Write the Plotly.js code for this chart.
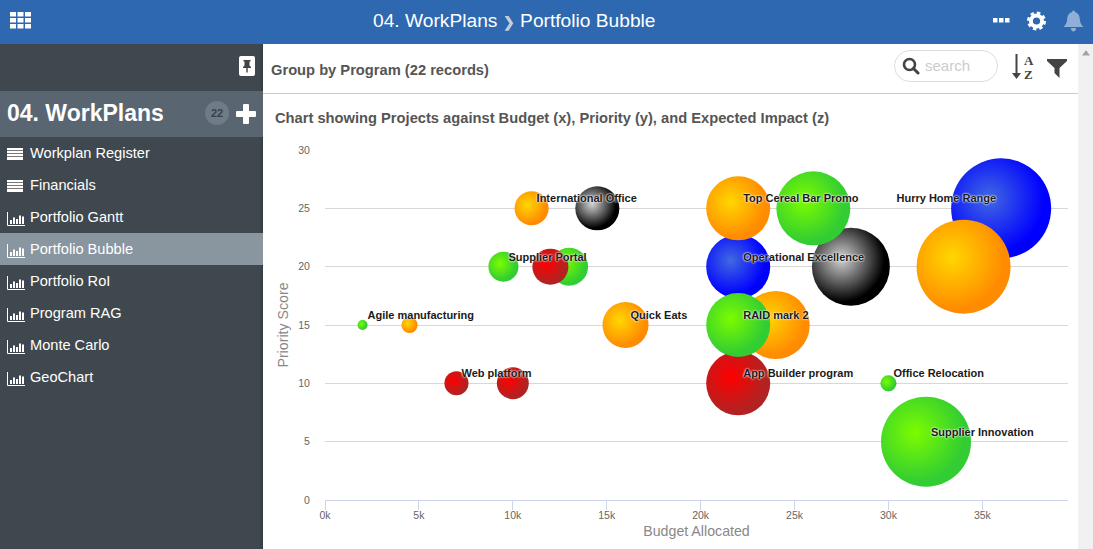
<!DOCTYPE html>
<html><head><meta charset="utf-8">
<script src="https://cdn.plot.ly/plotly-3.0.1.min.js"></script>
<style>
html,body{margin:0;padding:0;width:1093px;height:549px;overflow:hidden;background:#fff;font-family:"Liberation Sans",Arial,sans-serif}
.a{position:absolute}
#hdr{left:0;top:0;width:1093px;height:44px;background:#2d68b0}
#ttl{left:373px;top:0;line-height:41px;font-size:19.2px;color:#fff;white-space:pre}
#side{left:0;top:44px;width:263px;height:505px;background:#40484f;box-shadow:inset -4px 0 3px -3px rgba(0,0,0,.25)}
#band{left:0;top:91px;width:263px;height:46px;background:#596570;color:#fff;font-weight:bold;font-size:23px;line-height:45px;text-indent:7px}
.row{left:0;width:263px;height:32px;line-height:32px;color:#fff;font-size:14.6px;text-indent:30px}
.row.sel{background:#8a969f}
.row svg{position:absolute;left:7px;top:8px}
#badge{left:205px;top:101px;width:24px;height:24px;border-radius:12px;background:#6f7b85;color:#39424a;font-size:11px;font-weight:bold;line-height:24px;text-align:center}
#grp{left:271px;top:61px;font-size:14.7px;font-weight:bold;color:#555;line-height:18px}
#rule{left:263px;top:93px;width:815px;height:1px;background:#ccc}
#scroll{left:1078px;top:44px;width:15px;height:505px;background:#f1f1f1}
#search{left:894px;top:50px;width:102px;height:30px;border:1px solid #ddd;border-radius:16px;color:#ccc;font-size:15px;line-height:30px;text-indent:30px}
#chart{left:263px;top:100px;width:815px;height:449px}
</style></head><body>
<div id="hdr" class="a"></div>
<div id="ttl" class="a">04. WorkPlans <span style="color:#c4cfdc;font-weight:bold;font-size:14px">&#10095;</span> Portfolio Bubble</div>
<svg class="a" style="left:10px;top:12px" width="21" height="17" fill="#fff"><rect x="0" y="0" width="6" height="4.5"/><rect x="7.5" y="0" width="6" height="4.5"/><rect x="15" y="0" width="6" height="4.5"/><rect x="0" y="6" width="6" height="4.5"/><rect x="7.5" y="6" width="6" height="4.5"/><rect x="15" y="6" width="6" height="4.5"/><rect x="0" y="12" width="6" height="4.5"/><rect x="7.5" y="12" width="6" height="4.5"/><rect x="15" y="12" width="6" height="4.5"/></svg>
<svg class="a" style="left:993px;top:17px" width="17" height="6" fill="#fff"><rect x="0" y="1" width="4.5" height="4.5"/><rect x="6" y="1" width="4.5" height="4.5"/><rect x="12" y="1" width="4.5" height="4.5"/></svg>
<svg class="a" style="left:1027px;top:11px" width="19" height="20"><circle cx="9.5" cy="10" r="5.6" fill="none" stroke="#fff" stroke-width="4"/><circle cx="9.5" cy="10" r="8" fill="none" stroke="#fff" stroke-width="3" stroke-dasharray="3.4 2.9"/></svg>
<svg class="a" style="left:1063px;top:10px" width="21" height="22"><path d="M10.500 0.500C11.500 0.500 12 1.200 12 2.300C15.500 3 16.500 6 16.800 9C17 13 18.500 15 20.500 17H0.500C2.500 15 4 13 4.200 9C4.500 6 5.500 3 9 2.300C9 1.200 9.500 0.500 10.500 0.500ZM8 18H13C13 20 12 21.500 10.500 21.500C9 21.500 8 20 8 18Z" fill="#8fafd8"/></svg>
<div id="side" class="a"></div>
<svg class="a" style="left:239px;top:56px" width="16" height="20"><rect width="16" height="20" rx="2" fill="#fff"/><path d="M4.500 4H11.500V5.500H10.500V9.500L12 11V12H8.700V16L8 17L7.300 16V12H4V11L5.500 9.500V5.500H4.500Z" fill="#444"/></svg>
<div id="band" class="a">04. WorkPlans</div>
<div id="badge" class="a">22</div>
<svg class="a" style="left:236px;top:104px" width="20" height="20" fill="#fff"><rect x="7" y="0" width="6" height="20" rx="1"/><rect x="0" y="7" width="20" height="6" rx="1"/></svg>
<div id="rows"></div>
<div id="grp" class="a">Group by Program (22 records)</div>
<div id="rule" class="a"></div>
<div id="scroll" class="a"></div>
<svg class="a" style="left:1082px;top:50px" width="9" height="6"><path d="M0 5.500L3.700 0.500H4.300L8 5.500Z" fill="#a3a3a3"/></svg>
<div id="search" class="a">search</div>
<svg class="a" style="left:902px;top:57px" width="18" height="19"><circle cx="7.500" cy="7.500" r="5.500" fill="none" stroke="#444" stroke-width="2.600"/><path d="M11.500 11.500L16 16" stroke="#444" stroke-width="3" stroke-linecap="round"/></svg>
<svg class="a" style="left:1011px;top:53px" width="26" height="28"><path d="M5.500 1V23" stroke="#444" stroke-width="2"/><path d="M1 20H10L5.500 26Z" fill="#444"/><text x="13" y="12" font-size="13" font-weight="bold" fill="#444" font-family="Liberation Serif">A</text><text x="13" y="26" font-size="13" font-weight="bold" fill="#444" font-family="Liberation Serif">Z</text></svg>
<svg class="a" style="left:1047px;top:58px" width="20" height="20"><path d="M0 1H20V3L12.500 10V20L7.500 15V10L0 3Z" fill="#444"/></svg>
<div id="chart" class="a"></div>
<script>
// --- data ---
var menuItems = ["Workplan Register","Financials","Portfolio Gantt","Portfolio Bubble","Portfolio RoI","Program RAG","Monte Carlo","GeoChart"];
var menuKinds = ["list","list","chart","chart","chart","chart","chart","chart"];

var budget     = [28000,14500,36000,22000,34000,22000,24000,22000,22000,13000,12000,26000,9500,11000,7000,10000,2000,4500,16000,30000,32000];
var priority   = [20,25,25,20,20,25,15,10,15,20,20,25,20,25,10,10,15,15,15,10,5];
var impact     = [60.8,19.4,100,41,88.4,41,46.2,41,41,14.4,13,54.8,9,11.6,5.8,10.2,1,2.6,21.2,2.6,81];
var ragStatus  = ["black","black","blue","blue","amber","amber","amber","red","green","green","red","green","green","amber","red","red","green","amber","amber","green","green"];
var pointNames = ["","","Hurry Home Range","Operational Excellence","","Top Cereal Bar Promo","","App Builder program","RAID mark 2","","","","Supplier Portal","International Office","Web platform","","Agile manufacturing","","Quick Eats","Office Relocation","Supplier Innovation"];

var xTickVals  = [0,5000,10000,15000,20000,25000,30000,35000];
var xTickText  = ["0k","5k","10k","15k","20k","25k","30k","35k"];
var yTickVals  = [0,5,10,15,20,25,30];
var edgeColors = {green:"#32CD32",red:"#B22222",amber:"#FF8C00",blue:"#0000FF",black:"#000000"};
var coreColors = {green:"#7CFC00",red:"#FF0000",amber:"#FFD700",blue:"#4169E1",black:"#D3D3D3"};

// --- sidebar rows ---
var listIcon='<svg width="17" height="17" fill="#fff"><rect y="3" width="16" height="12" fill="#fff"/><path d="M0 5.500H16M0 8.500H16M0 11.500H16" stroke="#777" stroke-width="1"/></svg>';
var chartIcon='<svg width="19" height="18"><path d="M.5 3V16.500H18" stroke="#fff" fill="none"/><path d="M4 15V11M7 15V8.500M10 15V10M13 15V6.500M16 15V7.500" stroke="#fff" stroke-width="2"/></svg>';
var rowsEl=document.getElementById('rows');
menuItems.forEach(function(m,i){
  var d=document.createElement('div');
  d.className='a row'+(m==='Portfolio Bubble'?' sel':'');
  d.style.top=(137+i*32)+'px';
  d.innerHTML=(menuKinds[i]==='list'?listIcon:chartIcon)+m;
  rowsEl.appendChild(d);
});

// --- chart ---
var maxPx=100;
var sizeref=2*Math.max.apply(null,impact)/(maxPx*maxPx);
var positions=pointNames.map(function(n){return n==='Hurry Home Range'?'top left':'top right';});

var bubbles={type:'scatter',mode:'markers',x:budget,y:priority,hoverinfo:'skip',cliponaxis:false,
  marker:{size:impact,sizemode:'area',sizeref:sizeref,sizemin:1,opacity:1,
    color:ragStatus.map(function(s){return edgeColors[s];}),
    gradient:{type:'radial',color:ragStatus.map(function(s){return coreColors[s];})},
    line:{width:0}}};
var nameLabels={type:'scatter',mode:'text',x:budget,y:priority,text:pointNames,textposition:positions,hoverinfo:'skip',cliponaxis:false,
  textfont:{family:'Liberation Sans, Arial, sans-serif',size:11,color:'#1a1a1a',weight:'bold',
    shadow:'0 0 2px #fff, 0 0 2px #fff'}};
var W=815,H=449;
var layout={width:W,height:H,autosize:false,showlegend:false,
  paper_bgcolor:'rgba(0,0,0,0)',plot_bgcolor:'rgba(0,0,0,0)',
  margin:{l:62,r:10,t:50,b:49,pad:0},
  font:{family:'Liberation Sans, Arial, sans-serif',color:'#666'},
  title:{text:'<b>Chart showing Projects against Budget (x), Priority (y), and Expected Impact (z)</b>',
    font:{size:14.7,color:'#555',family:'Liberation Sans, Arial, sans-serif'},
    xref:'container',x:12/W,xanchor:'left',yref:'container',y:1-18/H,yanchor:'middle'},
  xaxis:{range:[0,39560],tickmode:'array',tickvals:xTickVals,ticktext:xTickText,showgrid:false,zeroline:false,
    showline:true,linecolor:'#ccd6eb',linewidth:1,ticks:'outside',ticklen:9,tickcolor:'#ccd6eb',tickwidth:1,
    ticklabelstandoff:-4,
    tickfont:{size:10.5,color:'#666'},
    title:{text:'Budget Allocated',font:{size:14.2,color:'#888'},standoff:6}},
  yaxis:{range:[0,30],tickmode:'array',tickvals:yTickVals,showgrid:true,gridcolor:'#d8d8d8',gridwidth:1,zeroline:false,
    showline:false,ticks:'outside',ticklen:12,tickcolor:'rgba(0,0,0,0)',tickfont:{size:10.5,color:'#666'},
    title:{text:'Priority Score',font:{size:14.2,color:'#888'},standoff:6}}
};
Plotly.newPlot('chart',[bubbles,nameLabels],layout,{staticPlot:true,displayModeBar:false}).then(function(gd){
  gd.querySelectorAll('radialGradient').forEach(function(g){
    g.setAttribute('cx','0.38');g.setAttribute('cy','0.4');g.setAttribute('r','0.55');
  });
  gd.querySelectorAll('.textpoint').forEach(function(g){
    var left=g.textContent==='Hurry Home Range';
    g.setAttribute('transform','translate('+(left?-5:5)+',-6)');
  });
});
</script>
</body></html>
